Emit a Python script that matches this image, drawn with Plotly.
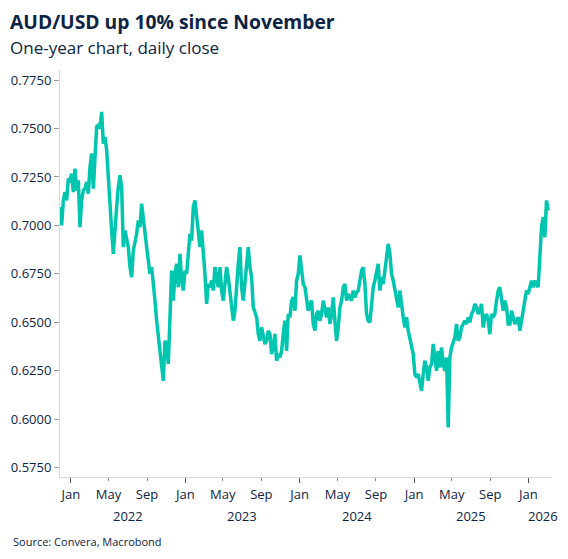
import pandas as pd
import plotly.graph_objects as go

aud_usd = [
    0.7095, 0.7000, 0.7129, 0.7172, 0.7129, 0.7241, 0.7233, 0.7267, 0.7172, 0.7293,
    0.7181, 0.7233, 0.6991, 0.7129, 0.7181, 0.7190, 0.7224, 0.7164, 0.7302, 0.7371,
    0.7190, 0.7388, 0.7509, 0.7517, 0.7500, 0.7586, 0.7422, 0.7457, 0.7388, 0.7250,
    0.7078, 0.6974, 0.6853, 0.7009, 0.7095, 0.7198, 0.7259, 0.7198, 0.6888, 0.6974,
    0.6940, 0.6888, 0.6785, 0.6733, 0.6871, 0.6905, 0.6957, 0.7026, 0.6991, 0.7112,
    0.7026, 0.6957, 0.6888, 0.6819, 0.6750, 0.6785, 0.6716, 0.6612, 0.6509, 0.6440,
    0.6353, 0.6267, 0.6198, 0.6405, 0.6388, 0.6285, 0.6612, 0.6767, 0.6612, 0.6750,
    0.6802, 0.6681, 0.6853, 0.6716, 0.6664, 0.6767, 0.6750, 0.6888, 0.6957, 0.6922,
    0.7095, 0.7129, 0.7060, 0.6991, 0.6888, 0.6974, 0.6871, 0.6750, 0.6595, 0.6698,
    0.6681, 0.6716, 0.6664, 0.6785, 0.6733, 0.6681, 0.6785, 0.6664, 0.6612, 0.6681,
    0.6785, 0.6733, 0.6664, 0.6612, 0.6509, 0.6560, 0.6716, 0.6802, 0.6888, 0.6681,
    0.6612, 0.6698, 0.6802, 0.6888, 0.6785, 0.6733, 0.6578, 0.6543, 0.6526, 0.6440,
    0.6405, 0.6474, 0.6440, 0.6388, 0.6405, 0.6457, 0.6440, 0.6336, 0.6371, 0.6440,
    0.6302, 0.6336, 0.6319, 0.6353, 0.6440, 0.6509, 0.6353, 0.6543, 0.6526, 0.6612,
    0.6629, 0.6560, 0.6716, 0.6750, 0.6845,
    0.6784, 0.6698, 0.6681, 0.6629, 0.6560, 0.6595, 0.6612, 0.6491, 0.6457, 0.6543,
    0.6560, 0.6508, 0.6543, 0.6612, 0.6577, 0.6526, 0.6577, 0.6491, 0.6543, 0.6629,
    0.6508, 0.6405, 0.6474, 0.6577, 0.6612, 0.6681, 0.6698, 0.6612, 0.6646, 0.6629,
    0.6612, 0.6664, 0.6629, 0.6655, 0.6664, 0.6715, 0.6767, 0.6784, 0.6698, 0.6543,
    0.6508, 0.6500, 0.6577, 0.6681, 0.6715, 0.6767, 0.6802, 0.6664, 0.6733, 0.6698,
    0.6767, 0.6819, 0.6905, 0.6853, 0.6750, 0.6715, 0.6664, 0.6612, 0.6577, 0.6664,
    0.6577, 0.6526, 0.6474, 0.6526, 0.6457, 0.6422, 0.6370, 0.6336, 0.6233, 0.6215,
    0.6233, 0.6198, 0.6146, 0.6233, 0.6302, 0.6267, 0.6198, 0.6267, 0.6284, 0.6388,
    0.6319, 0.6250, 0.6353, 0.6267, 0.6370, 0.6284, 0.6250, 0.6319, 0.5957, 0.6319,
    0.6370, 0.6405, 0.6422, 0.6491, 0.6405, 0.6422, 0.6474, 0.6491, 0.6508, 0.6491,
    0.6526, 0.6500, 0.6543, 0.6560, 0.6595, 0.6577, 0.6543, 0.6560, 0.6595, 0.6474,
    0.6526, 0.6543, 0.6508, 0.6439, 0.6543, 0.6526, 0.6543, 0.6612, 0.6664, 0.6681,
    0.6612, 0.6560, 0.6612, 0.6577, 0.6491, 0.6491, 0.6560, 0.6526, 0.6491, 0.6508,
    0.6526, 0.6457, 0.6508, 0.6560, 0.6595, 0.6664, 0.6646, 0.6681, 0.6715, 0.6681,
    0.6715, 0.6698, 0.6681, 0.6836, 0.6991, 0.7043, 0.6939, 0.7129, 0.7077,
]
first_date = "2021-11-27"
last_date = "2026-03-05"
dates = pd.date_range(first_date, last_date, periods=len(aud_usd))

y_ticks = [0.5750, 0.6000, 0.6250, 0.6500, 0.6750, 0.7000, 0.7250, 0.7500, 0.7750]
month_ticks = ["2022-01-01", "2022-05-01", "2022-09-01", "2023-01-01", "2023-05-01",
               "2023-09-01", "2024-01-01", "2024-05-01", "2024-09-01", "2025-01-01",
               "2025-05-01", "2025-09-01", "2026-01-01"]
month_labels = ["Jan", "May", "Sep", "Jan", "May", "Sep", "Jan", "May", "Sep",
                "Jan", "May", "Sep", "Jan"]
jan_ticks = ["2022-01-01", "2023-01-01", "2024-01-01", "2025-01-01", "2026-01-01"]
year_labels = ["2022", "2023", "2024", "2025", "2026"]
year_label_dates = ["2022-07-02", "2023-07-02", "2024-07-02", "2025-07-02", "2026-02-17"]

NAVY = "#0d2444"
TEAL = "#00c6b0"
AXIS = "#d9d9d9"
FONT = "Open Sans"

W, H = 568, 559
ML, MR, MT, MB = 60, 17, 70, 82
PW, PH = W - ML - MR, H - MT - MB

def px_x(p):
    return (p - ML) / PW

def px_y(p):
    return (H - MB - p) / PH

fig = go.Figure()
fig.add_trace(go.Scatter(
    x=dates, y=aud_usd, mode="lines",
    line=dict(color=TEAL, width=3.5), hoverinfo="x+y", showlegend=False,
))
# invisible trace on overlay axis for longer January ticks
fig.add_trace(go.Scatter(x=[dates[0]], y=[aud_usd[0]], xaxis="x2", mode="markers",
                         marker=dict(opacity=0), showlegend=False, hoverinfo="skip"))

x_range = ["2021-11-27", "2026-03-14"]
fig.update_layout(
    width=W, height=H,
    margin=dict(l=ML, r=MR, t=MT, b=MB),
    paper_bgcolor="white", plot_bgcolor="white",
    font=dict(family=FONT, color=NAVY, size=13),
    xaxis=dict(
        type="date", range=x_range, showgrid=False, zeroline=False,
        showline=True, linecolor=AXIS, linewidth=1,
        tickmode="array", tickvals=month_ticks, ticktext=month_labels,
        ticks="outside", ticklen=3, tickcolor="#8a8a8a", tickwidth=1,
        tickfont=dict(size=13, color=NAVY), ticklabelstandoff=2,
    ),
    xaxis2=dict(
        type="date", range=x_range, overlaying="x", side="bottom",
        showgrid=False, zeroline=False, showline=False,
        tickmode="array", tickvals=jan_ticks, showticklabels=False,
        ticks="outside", ticklen=5, tickcolor="#555555", tickwidth=1,
    ),
    yaxis=dict(
        range=[0.5702, 0.7802], showgrid=False, zeroline=False,
        showline=True, linecolor=AXIS, linewidth=1,
        tickmode="array", tickvals=y_ticks, ticktext=[f"{v:.4f}" for v in y_ticks],
        ticks="outside", ticklen=5, tickcolor="#9a9a9a", tickwidth=1,
        tickfont=dict(size=13, color=NAVY),
    ),
)

annotations = [
    dict(text="<b>AUD/USD up 10% since November</b>", x=px_x(8), y=px_y(22),
         xref="paper", yref="paper", xanchor="left", yanchor="middle",
         showarrow=False, font=dict(size=19.3, color=NAVY, family=FONT)),
    dict(text="One-year chart, daily close", x=px_x(8), y=px_y(47),
         xref="paper", yref="paper", xanchor="left", yanchor="middle",
         showarrow=False, font=dict(size=17, color=NAVY, family=FONT)),
    dict(text="Source: Convera, Macrobond", x=px_x(11), y=px_y(541),
         xref="paper", yref="paper", xanchor="left", yanchor="middle",
         showarrow=False, font=dict(size=11, color=NAVY, family=FONT)),
]
for lbl, d in zip(year_labels, year_label_dates):
    annotations.append(dict(text=lbl, x=d, y=px_y(516), xref="x", yref="paper",
                            xanchor="center", yanchor="middle", showarrow=False,
                            font=dict(size=13, color=NAVY, family=FONT)))
fig.update_layout(annotations=annotations)

fig.write_html("out.html")
